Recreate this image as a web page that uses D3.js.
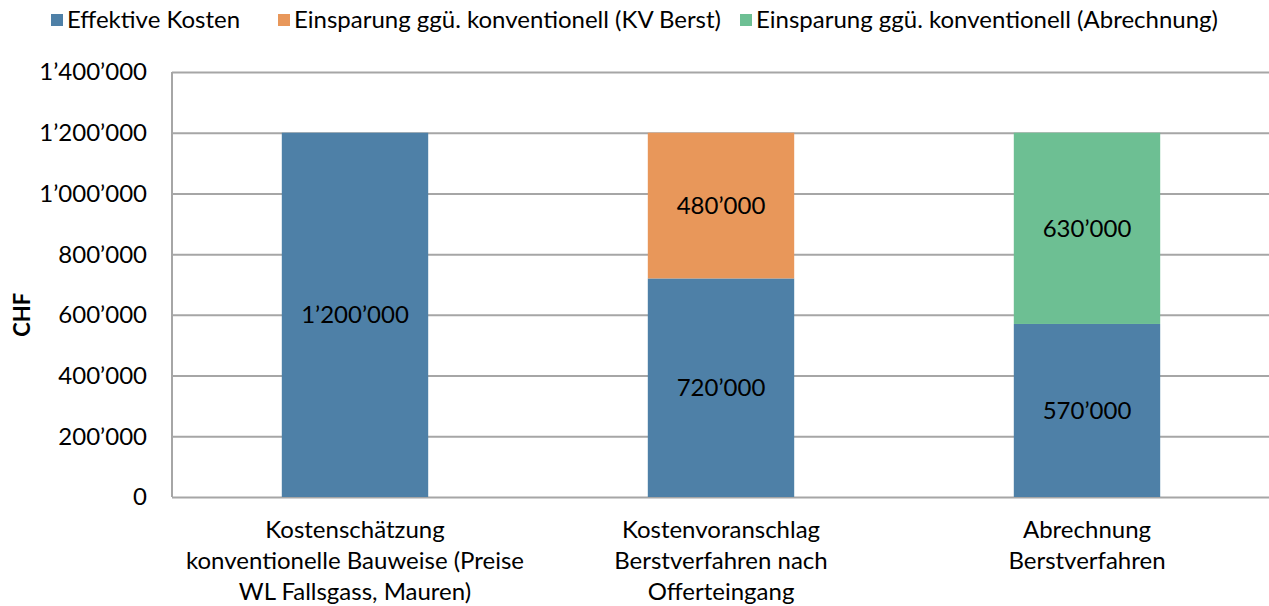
<!DOCTYPE html>
<html>
<head>
<meta charset="utf-8">
<style>
    body { margin: 0; background: #fff; }
    svg { display: block; font-family: Lato, 'Open Sans', sans-serif; }
    .grid line { stroke: #a6a6a6; stroke-width: 2px; }
    .grid .domain { display: none; }
    .y-labels text { font-size: 24px; fill: #000; }
    .cat-label { font-size: 24px; fill: #000; }
    .val-label { font-size: 24px; fill: #000; }
    .legend-text { font-size: 24px; fill: #000; }
</style>
</head>
<body>
<svg width="1269" height="606"></svg>
<script src="https://d3js.org/d3.v7.min.js"></script>
<script>
    // categories (each an array of label lines)
    let categories = [
        ["Kostenschätzung", "konventionelle Bauweise (Preise", "WL Fallsgass, Mauren)"],
        ["Kostenvoranschlag", "Berstverfahren nach", "Offerteingang"],
        ["Abrechnung", "Berstverfahren"]
    ];
    let seriesNames = [
        "Effektive Kosten",
        "Einsparung ggü. konventionell (KV Berst)",
        "Einsparung ggü. konventionell (Abrechnung)"
    ];
    let seriesColors = ["#4e80a7", "#e8975a", "#6dbf93"];

    // values per series, one per category
    let effektiv = [1200000, 720000, 570000];
    let sparKV = [0, 480000, 0];
    let sparAbr = [0, 0, 630000];

    let yTicks = [0, 200000, 400000, 600000, 800000, 1000000, 1200000, 1400000];

    let svg = d3.select("svg");
    let margin = { top: 72, right: -1, bottom: 109, left: 172 };
    let width = 1269, height = 606;

    let loc = d3.formatLocale({ decimal: ".", thousands: "\u2019", grouping: [3], currency: ["", ""] });
    let fmt = loc.format(",.0f");

    let rows = categories.map((c, i) => ({ idx: i, s0: effektiv[i], s1: sparKV[i], s2: sparAbr[i] }));
    let stack = d3.stack().keys(["s0", "s1", "s2"])(rows);

    let x = d3.scaleBand()
        .domain(d3.range(categories.length))
        .range([margin.left, width - margin.right])
        .paddingInner(0.6)
        .paddingOuter(0.3);

    let y = d3.scaleLinear()
        .domain([0, 1400000])
        .range([height - margin.bottom, margin.top]);

    // gridlines
    svg.append("g")
        .attr("class", "grid")
        .attr("transform", `translate(${margin.left},0)`)
        .call(d3.axisRight(y).tickValues(yTicks).tickSize(width - margin.left + 2).tickFormat(""));

    // y labels
    svg.append("g")
        .attr("class", "y-labels")
        .selectAll("text")
        .data(yTicks)
        .join("text")
        .attr("x", 147)
        .attr("y", d => y(d))
        .attr("dy", "0.35em")
        .attr("text-anchor", "end")
        .text(d => fmt(d));

    // bars
    svg.append("g")
        .selectAll("g")
        .data(stack)
        .join("g")
        .attr("fill", (d, i) => seriesColors[i])
        .selectAll("rect")
        .data(d => d.filter(p => p[1] > p[0]))
        .join("rect")
        .attr("x", d => x(d.data.idx))
        .attr("y", d => y(d[1]))
        .attr("width", x.bandwidth())
        .attr("height", d => y(d[0]) - y(d[1]));

    // value labels
    let labels = [];
    stack.forEach(s => s.forEach(p => { if (p[1] > p[0]) labels.push(p); }));
    svg.append("g")
        .selectAll("text")
        .data(labels)
        .join("text")
        .attr("class", "val-label")
        .attr("x", d => x(d.data.idx) + x.bandwidth() / 2)
        .attr("y", d => y((d[0] + d[1]) / 2))
        .attr("dy", "0.35em")
        .attr("text-anchor", "middle")
        .text(d => fmt(d[1] - d[0]));

    // left axis line
    svg.append("line")
        .attr("x1", margin.left).attr("x2", margin.left)
        .attr("y1", y(1400000)).attr("y2", y(0))
        .attr("stroke", "#a6a6a6")
        .attr("stroke-width", 2);

    // category labels
    let cat = svg.append("g")
        .selectAll("text")
        .data(categories)
        .join("text")
        .attr("class", "cat-label")
        .attr("text-anchor", "middle")
        .attr("x", (d, i) => x(i) + x.bandwidth() / 2)
        .attr("y", 538);
    cat.selectAll("tspan")
        .data(d => d)
        .join("tspan")
        .attr("x", function() { return this.parentNode.getAttribute("x"); })
        .attr("dy", (d, i) => i === 0 ? 0 : 31)
        .text(d => d);

    // axis title
    svg.append("text")
        .attr("transform", `translate(30,${y(600000)}) rotate(-90)`)
        .attr("text-anchor", "middle")
        .attr("font-size", 22)
        .attr("font-weight", "bold")
        .text("CHF");

    // legend
    let legX = [51, 278, 740];
    let leg = svg.append("g")
        .selectAll("g")
        .data(seriesNames)
        .join("g")
        .attr("transform", (d, i) => `translate(${legX[i]},14)`);
    leg.append("rect")
        .attr("width", 12).attr("height", 12)
        .attr("fill", (d, i) => seriesColors[i]);
    leg.append("text")
        .attr("class", "legend-text")
        .attr("x", 16)
        .attr("y", 6)
        .attr("dy", "0.35em")
        .text(d => d);
</script>
</body>
</html>
